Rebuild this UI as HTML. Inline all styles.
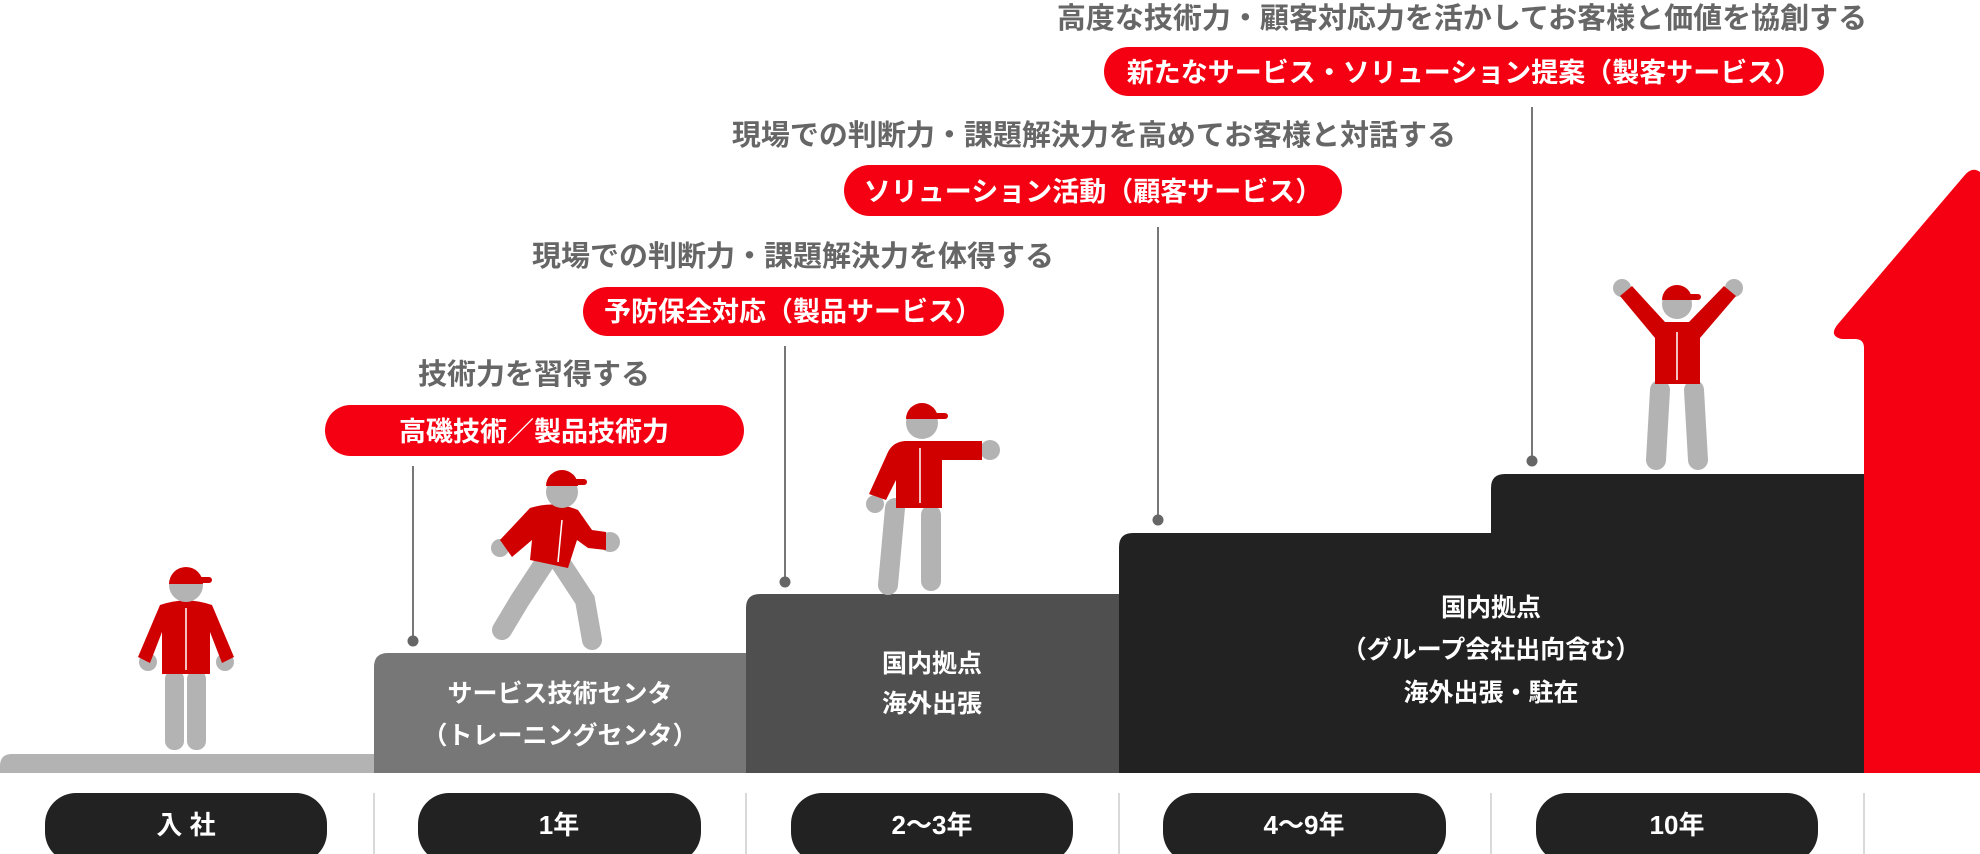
<!DOCTYPE html>
<html><head><meta charset="utf-8"><style>
html,body{margin:0;padding:0;background:#fff;}
svg{display:block;}
text{font-family:"Liberation Sans","Noto Sans CJK JP",sans-serif;font-weight:bold;}
</style></head><body>
<svg width="1980" height="854" viewBox="0 0 1980 854" xmlns="http://www.w3.org/2000/svg">
<path d="M0,773 L0,766 Q0,754 12,754 L374,754 L374,773 Z" fill="#b3b3b3"/>
<path d="M374,773 L374,667 Q374,653 388,653 L746,653 L746,773 Z" fill="#777"/>
<path d="M746,773 L746,608 Q746,594 760,594 L1119,594 L1119,773 Z" fill="#4f4f4f"/>
<path d="M1119,773 L1119,547 Q1119,533 1133,533 L1491,533 L1491,488 Q1491,474 1505,474 L1864,474 L1864,773 Z" fill="#222"/>
<path d="M1864,773 L1864,348 Q1864,339 1855,339 L1842,339 Q1828,336 1838,324 L1964,176 Q1972,166 1980,172 L1980,773 Z" fill="#f50012"/>
<g stroke="#ccc" stroke-width="1.5">
<line x1="374" y1="793" x2="374" y2="854"/><line x1="746" y1="793" x2="746" y2="854"/>
<line x1="1119" y1="793" x2="1119" y2="854"/><line x1="1491" y1="793" x2="1491" y2="854"/>
<line x1="1864" y1="793" x2="1864" y2="854"/>
</g>
<g fill="#222">
<rect x="45" y="793" width="282" height="70" rx="31"/>
<rect x="418" y="793" width="283" height="70" rx="31"/>
<rect x="791" y="793" width="282" height="70" rx="31"/>
<rect x="1163" y="793" width="283" height="70" rx="31"/>
<rect x="1536" y="793" width="282" height="70" rx="31"/>
</g>
<g fill="#fff" font-size="26" text-anchor="middle">
<text x="186" y="834">入 社</text>
<text x="559" y="834">1年</text>
<text x="932" y="834">2〜3年</text>
<text x="1304" y="834">4〜9年</text>
<text x="1677" y="834">10年</text>
</g>
<g fill="#fff" font-size="25" text-anchor="middle">
<text x="560" y="702">サービス技術センタ</text>
<text x="560" y="744">（トレーニングセンタ）</text>
<text x="932" y="672">国内拠点</text>
<text x="932" y="712">海外出張</text>
<text x="1491" y="616">国内拠点</text>
<text x="1491" y="658">（グループ会社出向含む）</text>
<text x="1491" y="701">海外出張・駐在</text>
</g>
<g stroke="#777" stroke-width="2">
<line x1="413" y1="466" x2="413" y2="640"/>
<line x1="785" y1="346" x2="785" y2="581"/>
<line x1="1158" y1="227" x2="1158" y2="519"/>
<line x1="1532" y1="107" x2="1532" y2="460"/>
</g>
<g fill="#666">
<circle cx="413" cy="641" r="5.5"/><circle cx="785" cy="582" r="5.5"/>
<circle cx="1158" cy="520" r="5.5"/><circle cx="1532" cy="461" r="5.5"/>
</g>
<g fill="#f50012">
<rect x="325" y="405" width="419" height="51" rx="25.5"/>
<rect x="583" y="287" width="421" height="49" rx="24.5"/>
<rect x="844" y="165" width="498" height="51" rx="25.5"/>
<rect x="1104" y="47" width="720" height="49" rx="24.5"/>
</g>
<g fill="#fff" font-size="27" text-anchor="middle">
<text x="534" y="441">高磯技術／製品技術力</text>
<text x="793" y="321">予防保全対応（製品サービス）</text>
<text x="1093" y="201">ソリューション活動（顧客サービス）</text>
<text x="1464" y="82">新たなサービス・ソリューション提案（製客サービス）</text>
</g>
<g fill="#666" font-size="29" text-anchor="middle">
<text x="534" y="384">技術力を習得する</text>
<text x="793" y="266">現場での判断力・課題解決力を体得する</text>
<text x="1094" y="145">現場での判断力・課題解決力を高めてお客様と対話する</text>
<text x="1462" y="28">高度な技術力・顧客対応力を活かしてお客様と価値を協創する</text>
</g>
<g>
<rect x="165" y="670" width="19" height="80" rx="9" fill="#b3b3b3"/>
<rect x="187" y="670" width="19" height="80" rx="9" fill="#b3b3b3"/>
<circle cx="148" cy="662" r="9" fill="#b3b3b3"/><circle cx="225" cy="662" r="9" fill="#b3b3b3"/>
<path d="M160,605 Q186,596 212,605 L234,657 L222,663 L210,632 L210,674 L162,674 L162,632 L150,663 L138,657 Z" fill="#d10000"/>
<line x1="186" y1="608" x2="186" y2="670" stroke="#fff" stroke-width="1.5"/>
<circle cx="186" cy="585" r="17" fill="#b3b3b3"/>
<path d="M169,584 A17,17 0 0 1 203,584 Z" fill="#d10000"/><rect x="198" y="577" width="14" height="6" rx="3" fill="#d10000"/>
</g>
<g>
<path d="M545,562 L520,600 L502,630" stroke="#b3b3b3" stroke-width="20" stroke-linecap="round" fill="none"/>
<path d="M560,562 L585,600 L592,640" stroke="#b3b3b3" stroke-width="20" stroke-linecap="round" fill="none"/>
<circle cx="500" cy="548" r="9" fill="#b3b3b3"/><circle cx="610" cy="542" r="10" fill="#b3b3b3"/>
<path d="M530,508 Q555,500 578,510 L592,530 L606,532 L606,550 L588,548 L577,540 L568,568 L530,560 L532,540 L512,557 L500,540 Z" fill="#d10000"/>
<line x1="562" y1="520" x2="558" y2="562" stroke="#fff" stroke-width="1.5"/>
<circle cx="562" cy="492" r="16" fill="#b3b3b3"/>
<path d="M546,486 A16,16 0 0 1 578,486 Z" fill="#d10000"/><rect x="574" y="479" width="13" height="6" rx="3" fill="#d10000"/>
</g>
<g>
<path d="M895,508 L888,585" stroke="#b3b3b3" stroke-width="20" stroke-linecap="round"/>
<rect x="921" y="505" width="20" height="86" rx="10" fill="#b3b3b3"/>
<circle cx="875" cy="504" r="9" fill="#b3b3b3"/><circle cx="990" cy="450" r="10" fill="#b3b3b3"/>
<path d="M905,441 L982,441 L982,460 L942,460 L942,508 L896,508 L896,480 L886,500 L869,494 L888,452 Q893,442 905,441 Z" fill="#d10000"/>
<line x1="920" y1="448" x2="920" y2="503" stroke="#fff" stroke-width="1.5"/>
<circle cx="922" cy="423" r="16" fill="#b3b3b3"/>
<path d="M906,419 A16,16 0 0 1 938,419 Z" fill="#d10000"/><rect x="934" y="413" width="14" height="6" rx="3" fill="#d10000"/>
</g>
<g>
<path d="M1660,390 L1656,460" stroke="#b3b3b3" stroke-width="20" stroke-linecap="round"/>
<path d="M1694,390 L1698,460" stroke="#b3b3b3" stroke-width="20" stroke-linecap="round"/>
<circle cx="1622" cy="288" r="9" fill="#b3b3b3"/><circle cx="1734" cy="288" r="9" fill="#b3b3b3"/>
<path d="M1620,296 L1632,286 L1665,322 L1689,322 L1724,286 L1736,296 L1700,338 L1700,384 L1655,384 L1655,338 Z" fill="#d10000"/>
<line x1="1677" y1="332" x2="1677" y2="380" stroke="#fff" stroke-width="1.5"/>
<circle cx="1677" cy="304" r="15" fill="#b3b3b3"/>
<path d="M1662,300 A15,15 0 0 1 1692,300 Z" fill="#d10000"/><rect x="1688" y="294" width="13" height="6" rx="3" fill="#d10000"/>
</g>
</svg>
</body></html>
